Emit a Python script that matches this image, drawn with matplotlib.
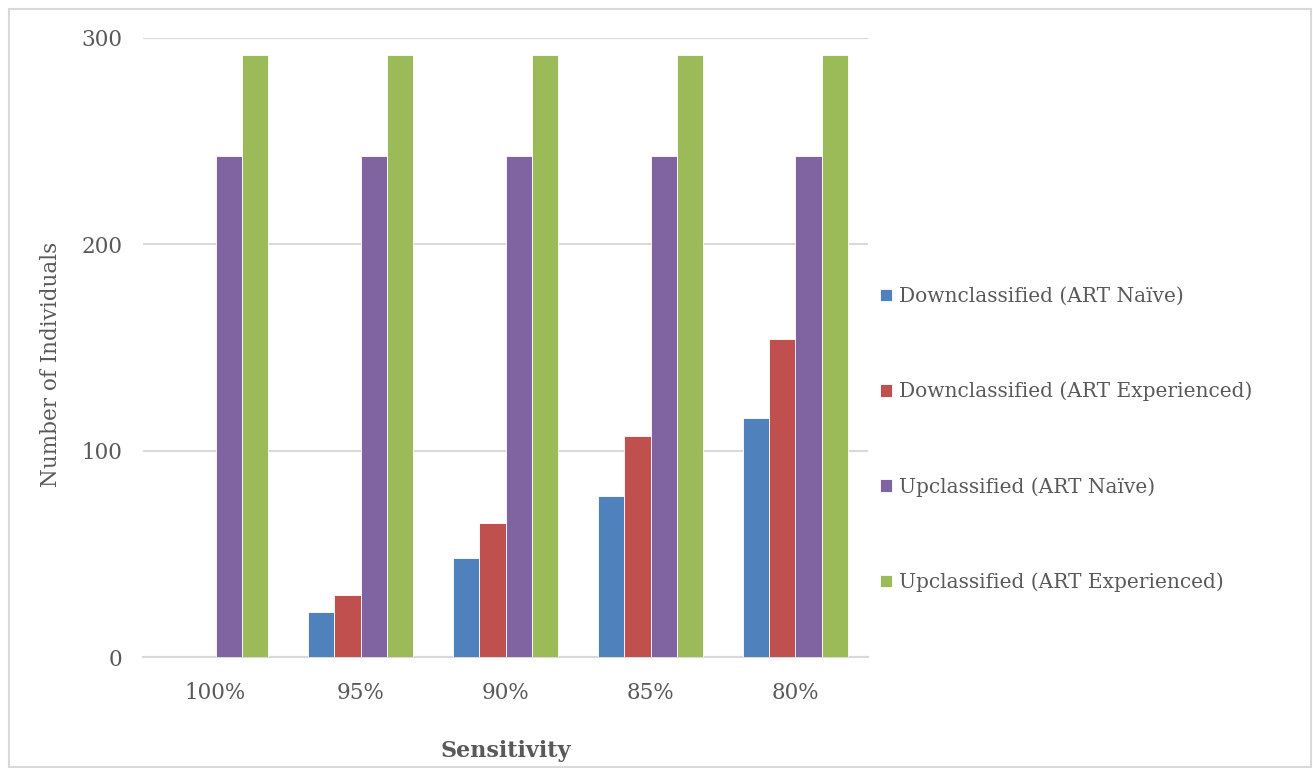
import numpy as np
import matplotlib.pyplot as plt
from matplotlib.patches import Rectangle

# Counts per sensitivity threshold
sensitivity = ['100%', '95%', '90%', '85%', '80%']
down_naive = [0, 22, 48, 78, 116]
down_exp = [0, 30, 65, 107, 154]
up_naive = [243, 243, 243, 243, 243]
up_exp = [292, 292, 292, 292, 292]

series = [
    ('Downclassified (ART Naïve)', down_naive, '#4F81BD'),
    ('Downclassified (ART Experienced)', down_exp, '#C0504D'),
    ('Upclassified (ART Naïve)', up_naive, '#8064A2'),
    ('Upclassified (ART Experienced)', up_exp, '#9BBB59'),
]

text_color = '#595959'
plt.rcParams['font.family'] = ['DejaVu Serif']

fig = plt.figure(figsize=(13.13, 7.68), dpi=100)
ax = fig.add_axes([143 / 1313, 1 - 657 / 768, (868 - 143) / 1313, (657 - 38) / 768])

x = np.arange(len(sensitivity))
width = 0.181
for i, (label, vals, color) in enumerate(series):
    offset = (i - 1.5) * width
    ax.bar(x + offset, vals, width, color=color, label=label,
           edgecolor='white', linewidth=0.6, zorder=3)

ax.set_xlim(-0.5, len(sensitivity) - 0.5)
ax.set_ylim(0, 300)
ax.set_yticks([0, 100, 200, 300])
ax.set_xticks(x)
ax.set_xticklabels(sensitivity)
ax.grid(axis='y', color='#d9d9d9', linewidth=1.5, zorder=0)
for side in ['top', 'right', 'left']:
    ax.spines[side].set_visible(False)
ax.spines['bottom'].set_color('#d9d9d9')
ax.spines['bottom'].set_linewidth(1.5)
ax.tick_params(axis='both', length=0, labelsize=15.5, colors=text_color)
ax.tick_params(axis='y', pad=15)
ax.tick_params(axis='x', pad=18)

ax.set_xlabel('Sensitivity', fontsize=16, fontweight='bold', color=text_color)
ax.xaxis.set_label_coords(0.5, -0.134)
ax.set_ylabel('Number of Individuals', fontsize=15.5, color=text_color)
ax.yaxis.set_label_coords(-0.112, 0.472)

leg = ax.legend(loc='upper left', bbox_to_anchor=(880 / 1313, 1 - 287 / 768),
                bbox_transform=fig.transFigure, frameon=False, fontsize=14.5,
                handlelength=0.6, handleheight=0.6, handletextpad=0.35,
                labelspacing=3.76, borderpad=0, borderaxespad=0)
for t in leg.get_texts():
    t.set_color(text_color)

# light frame around the whole chart
fig.patches.append(Rectangle((9 / 1313, 1 / 768), 1302 / 1313, 758 / 768,
                             transform=fig.transFigure, fill=False,
                             edgecolor='#d9d9d9', linewidth=1.5))

plt.savefig('out.png', dpi=100)
